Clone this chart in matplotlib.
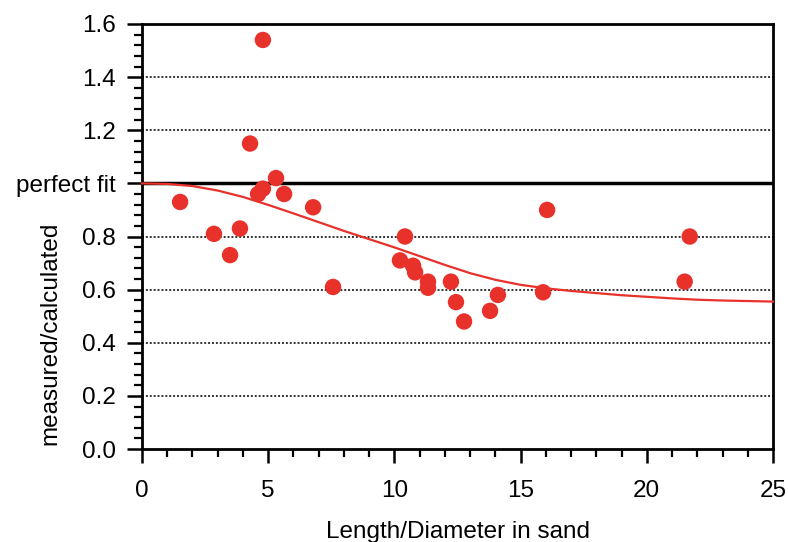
import matplotlib
matplotlib.use("Agg")
import matplotlib.pyplot as plt
from matplotlib.ticker import MultipleLocator

plt.rcParams['font.family'] = ['Liberation Sans', 'DejaVu Sans']

# measured data points (Length/Diameter, measured/calculated)
ld_ratio = [1.51, 2.85, 3.49, 3.88, 4.28, 4.79, 4.60, 4.79, 5.31, 5.63, 6.78, 7.57,
            10.22, 10.42, 10.74, 10.82, 11.33, 11.33, 12.24, 12.44, 12.76, 13.79,
            14.10, 15.89, 16.05, 21.50, 21.70]
ratio = [0.93, 0.81, 0.73, 0.83, 1.15, 1.54, 0.96, 0.98, 1.02, 0.96, 0.91, 0.61,
         0.71, 0.80, 0.69, 0.665, 0.63, 0.607, 0.63, 0.553, 0.48, 0.52,
         0.58, 0.59, 0.90, 0.63, 0.80]

# fitted curve
curve_x = list(range(0, 26))
curve_y = [1.0, 0.998, 0.99, 0.973, 0.949, 0.919, 0.887, 0.854, 0.821, 0.79, 0.759,
           0.726, 0.693, 0.662, 0.637, 0.618, 0.605, 0.595, 0.587, 0.579, 0.573,
           0.567, 0.562, 0.559, 0.557, 0.555]

yticks = [0.0, 0.2, 0.4, 0.6, 0.8, 1.0, 1.2, 1.4, 1.6]
ytick_labels = ['0.0', '0.2', '0.4', '0.6', '0.8', 'perfect fit', '1.2', '1.4', '1.6']
xticks = [0, 5, 10, 15, 20, 25]

fig = plt.figure(figsize=(7.88, 5.42), dpi=100)
ax = fig.add_axes([142/788, 93/542, 631/788, 425/542])

red = '#e8312a'
for yv in [0.2, 0.4, 0.6, 0.8, 1.2, 1.4]:
    ax.axhline(yv, color='#333333', lw=1.4, ls=(0, (1, 1)), zorder=1)
ax.axhline(1.0, color='black', lw=2.5, zorder=2)

ax.plot(curve_x, curve_y, color=red, lw=1.6, zorder=3, clip_on=False)
ax.scatter(ld_ratio, ratio, s=140, color=red, edgecolors='none', zorder=4)

ax.set_xlim(0, 25)
ax.set_ylim(0, 1.6)
ax.set_xticks(xticks)
ax.set_xticklabels([str(v) for v in xticks])
ax.set_yticks(yticks)
ax.set_yticklabels(ytick_labels)
ax.xaxis.set_minor_locator(MultipleLocator(1))
ax.yaxis.set_minor_locator(MultipleLocator(0.04))

fs = 17.5
ax.tick_params(axis='y', which='major', direction='out', length=11, width=1.8,
               labelsize=fs, pad=8)
ax.tick_params(axis='y', which='minor', direction='out', length=6, width=1.6)
ax.tick_params(axis='x', which='major', direction='out', length=10, width=1.8,
               labelsize=fs, pad=12)
ax.tick_params(axis='x', which='minor', direction='out', length=6, width=1.6)

for sp in ax.spines.values():
    sp.set_linewidth(2)
    sp.set_color('black')

ax.set_xlabel('Length/Diameter in sand', fontsize=fs)
ax.set_ylabel('measured/calculated', fontsize=fs)
ax.xaxis.set_label_coords(0.5, -0.17)
ax.yaxis.set_label_coords(-0.128, 0.273)

fig.savefig('out.png', dpi=100)
